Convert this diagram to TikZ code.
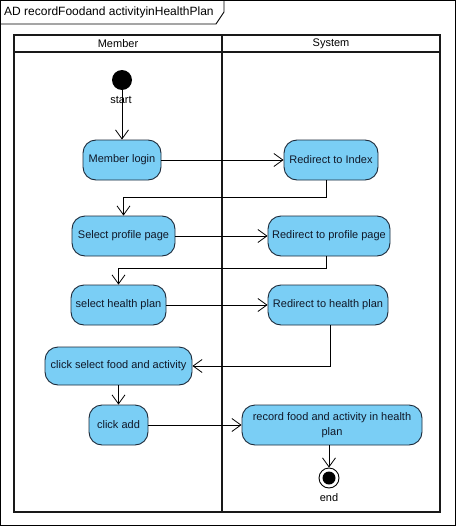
\documentclass[tikz,border=0pt]{standalone}
\usepackage{fontspec}
\setmainfont{Liberation Sans}
\usetikzlibrary{arrows.meta}
\definecolor{actfill}{RGB}{122,206,245}
\definecolor{actline}{RGB}{28,42,58}
\definecolor{acttext}{RGB}{16,24,40}
\tikzset{
  act/.style={draw=actline, fill=actfill, rounded corners=13pt, line width=0.9pt,
    minimum height=40pt, inner sep=0pt, align=center, text=acttext,
    font=\fontsize{11}{15}\selectfont},
  flow/.style={-{Straight Barb[length=9pt,width=13pt]}, line width=0.8pt},
  lanefr/.style={line width=2.2pt, draw=black!90},
  lbl/.style={font=\fontsize{11}{13}\selectfont, inner sep=0pt},
}
\begin{document}
\begin{tikzpicture}[x=1pt,y=-1pt]
\useasboundingbox (0,0) rectangle (456,527);
\fill[white] (0,0) rectangle (456,527);

% diagram frame and its name tab
\draw[line width=0.9pt] (0.5,0.5) rectangle (455,525);
\draw[line width=0.9pt] (0,24) -- (216,24) -- (224,12) -- (224,0);
\node[anchor=west, font=\fontsize{12}{14}\selectfont, inner sep=0pt] (title) at (4,12.5)
  {AD recordFoodand activityinHealthPlan};

% swimlanes
\draw[lanefr] (14,35) rectangle (440,512);
\draw[lanefr] (14,52) -- (440,52);
\draw[lanefr] (222,35) -- (222,512);
\node[lbl] (laneA) at (118,44) {Member};
\node[lbl] (laneB) at (331,44) {System};

% initial and final nodes
\node[circle, fill=black, minimum size=20pt, inner sep=0pt] (start) at (122,80) {};
\node[lbl] (startlbl) at (121,99.5) {start};
\node[circle, draw=black, line width=0.9pt, fill=white, minimum size=20pt, inner sep=0pt] (end) at (329,478) {};
\fill[black] (end.center) circle (6.5pt);
\node[lbl] (endlbl) at (329,497.5) {end};

% actions
\node[act, minimum width=78pt]  (login)   at (122,160)   {Member login};
\node[act, minimum width=94pt]  (index)   at (331,160)   {Redirect to Index};
\node[act, minimum width=103pt] (profsel) at (123.5,236) {Select profile page};
\node[act, minimum width=122pt] (profred) at (329,236)   {Redirect to profile page};
\node[act, minimum width=95pt]  (hpsel)   at (118.5,305) {select health plan};
\node[act, minimum width=120pt] (hpred)   at (328,305)   {Redirect to health plan};
\node[act, minimum width=147pt, minimum height=38pt] (food) at (118.5,366) {click select food and activity};
\node[act, minimum width=59pt]  (add)     at (118.5,425) {click add};
\node[act, minimum width=180pt] (rec)     at (332,425)   {record food and activity in health\\plan};

% bend points of the elbow flows
\coordinate (b1) at (326,197);
\coordinate (b2) at (326,268);
\coordinate (b3) at (330,366);

% control flows
\draw[flow] (start) -- (login);
\draw[flow] (login) -- (index);
\draw[flow] (index.south -| b1) -- (b1) -| (profsel.north);
\draw[flow] (profsel) -- (profred);
\draw[flow] (profred.south -| b2) -- (b2) -| (hpsel.north);
\draw[flow] (hpsel) -- (hpred);
\draw[flow] (hpred.south -| b3) -- (b3) -- (food.east);
\draw[flow] (food) -- (add);
\draw[flow] (add) -- (rec);
\draw[flow] (rec.south -| end) -- (end.north);
\end{tikzpicture}
\end{document}
